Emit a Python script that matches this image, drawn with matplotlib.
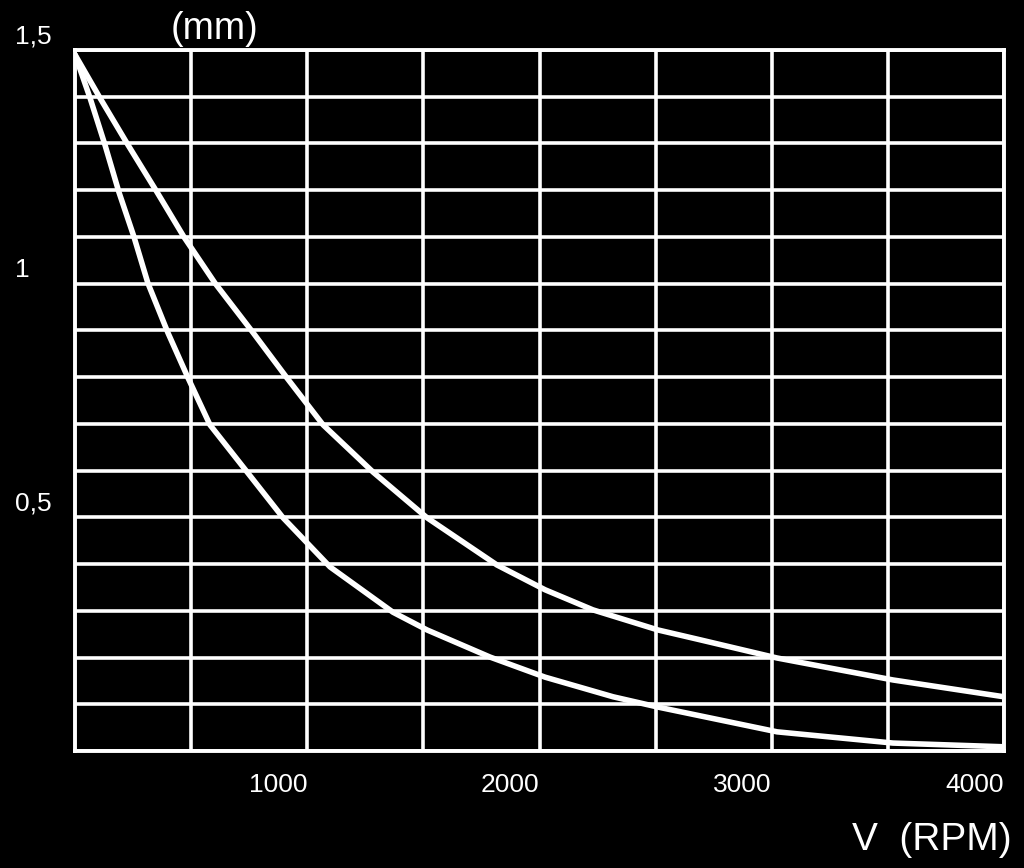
import matplotlib
matplotlib.use('Agg')
import matplotlib.pyplot as plt
import matplotlib.transforms as mtransforms
import numpy as np

plt.rcParams['font.family'] = ['Liberation Sans', 'DejaVu Sans']

# curve data (RPM, mm)
rpm_outer = [0, 108, 228, 353, 469, 603, 767, 913, 1068, 1283, 1516, 1817, 2024, 2230, 2510, 2691, 3023, 3522, 4000]
mm_outer = [1.49, 1.397, 1.297, 1.196, 1.100, 1.001, 0.895, 0.798, 0.698, 0.597, 0.499, 0.398, 0.345, 0.302,
            0.259, 0.238, 0.199, 0.152, 0.116]

rpm_inner = [0, 65, 129, 189, 254, 314, 400, 487, 581, 741, 896, 1098, 1369, 1516, 1787, 2024, 2317, 2510, 3023, 3522, 4000]
mm_inner = [1.49, 1.397, 1.297, 1.196, 1.100, 1.001, 0.895, 0.798, 0.698, 0.597, 0.499, 0.394, 0.297, 0.259,
            0.201, 0.158, 0.116, 0.094, 0.041, 0.017, 0.009]

xtick_vals = [1000, 2000, 3000, 4000]
xtick_labels = ['1000', '2000', '3000', '4000']
ytick_vals = [0.5, 1.0, 1.5]
ytick_labels = ['0,5', '1', '1,5']

fig = plt.figure(figsize=(10.24, 8.68), dpi=100, facecolor='black')
ax = fig.add_axes([75 / 1024, 117 / 868, 929 / 1024, 701 / 868])
ax.set_facecolor('black')

ax.set_xlim(0, 4000)
ax.set_ylim(0, 1.5)

# grid: 500 RPM by 0.1 mm
ax.set_xticks(xtick_vals)
ax.set_xticks(np.arange(500, 4000, 1000), minor=True)
ax.set_yticks([])
ax.set_yticks(np.arange(0, 1.501, 0.1), minor=True)
ax.grid(which='both', axis='x', color='white', linewidth=2.6)
ax.grid(which='minor', axis='y', color='white', linewidth=2.6)
ax.set_axisbelow(True)
ax.tick_params(which='both', length=0)
for s in ax.spines.values():
    s.set_color('white')
    s.set_linewidth(2.8)

ax.plot(rpm_outer, mm_outer, color='white', linewidth=4.0, solid_capstyle='round', solid_joinstyle='round')
ax.plot(rpm_inner, mm_inner, color='white', linewidth=4.0, solid_capstyle='round', solid_joinstyle='round')

# x tick labels (right-aligned under grid lines)
ax.set_xticklabels(xtick_labels, fontsize=19, color='white', ha='right')
ax.tick_params(axis='x', pad=16)

# y labels sit above their grid lines, left-aligned
trans = mtransforms.blended_transform_factory(fig.transFigure, ax.transData)
offset = mtransforms.ScaledTranslation(0, 10 / 72, fig.dpi_scale_trans)
for v, lab in zip(ytick_vals, ytick_labels):
    ax.text(15 / 1024, v, lab, transform=trans + offset, fontsize=19, color='white',
            ha='left', va='center', clip_on=False)

fig.text(0.209, 0.967, '(mm)', fontsize=27, color='white', ha='center', va='center')
fig.text(0.988, 0.032, 'V  (RPM)', fontsize=28, color='white', ha='right', va='center')

fig.savefig('out.png', dpi=100, facecolor='black')
